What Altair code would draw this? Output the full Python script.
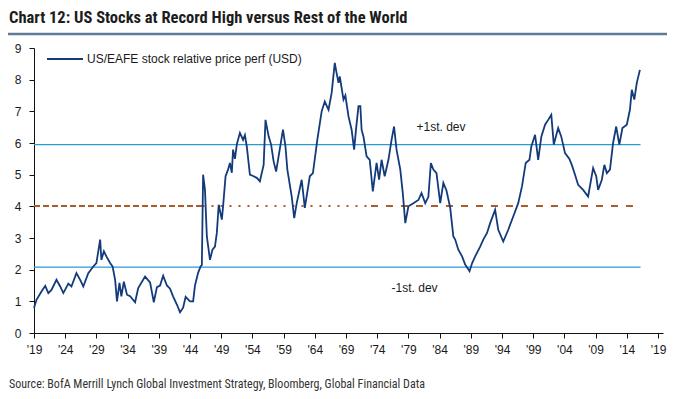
import altair as alt
import pandas as pd

# ---- data ----
years = [1919.0, 1919.4, 1920.2, 1920.8, 1921.3, 1921.8, 1922.6, 1923.2, 1923.7, 1924.5,
         1925.0, 1925.8, 1926.4, 1926.9, 1927.7, 1928.5, 1929.0, 1929.6, 1929.8, 1930.2,
         1930.6, 1931.2, 1931.6, 1932.0, 1932.3, 1932.7, 1933.0, 1933.4, 1933.9, 1934.4,
         1935.2, 1935.7, 1936.8, 1937.6, 1938.2, 1938.7, 1939.2, 1939.7, 1940.3, 1940.8,
         1941.3, 1941.9, 1942.4, 1942.9, 1943.3, 1944.0, 1944.5, 1944.8, 1945.3, 1945.7,
         1945.9, 1946.1, 1946.4, 1946.7, 1947.2, 1947.6, 1948.0, 1948.3, 1948.6, 1949.1,
         1949.3, 1949.7, 1950.1, 1950.4, 1950.7, 1950.9, 1951.2, 1951.5, 1951.7, 1952.0,
         1952.5, 1952.8, 1953.1, 1953.6, 1954.2, 1954.7, 1955.2, 1955.8, 1956.1, 1956.6,
         1957.0, 1957.4, 1957.8, 1958.2, 1958.9, 1959.3, 1959.6, 1960.3, 1960.7, 1961.1,
         1961.9, 1962.4, 1963.2, 1963.7, 1964.4, 1965.1, 1965.6, 1966.2, 1966.7, 1967.2,
         1967.5, 1967.8, 1968.0, 1968.6, 1968.9, 1969.4, 1969.9, 1970.3, 1970.6, 1971.0,
         1971.3, 1971.5, 1971.8, 1972.3, 1972.8, 1973.3, 1973.9, 1974.3, 1974.7, 1975.2,
         1975.8, 1976.3, 1976.7, 1977.1, 1977.7, 1978.1, 1978.5, 1979.0, 1979.8, 1980.6,
         1981.1, 1981.7, 1982.2, 1982.6, 1983.0, 1983.5, 1984.1, 1984.6, 1985.1, 1985.7,
         1986.2, 1986.5, 1987.0, 1987.6, 1988.1, 1988.8, 1989.2, 1989.7, 1990.5, 1991.0,
         1991.6, 1992.1, 1992.9, 1993.4, 1994.2, 1995.0, 1995.8, 1996.6, 1997.2, 1997.8,
         1998.4, 1998.7, 1999.3, 1999.8, 2000.3, 2000.9, 2001.4, 2001.9, 2002.3, 2003.0,
         2003.5, 2004.1, 2004.8, 2005.2, 2005.7, 2006.2, 2007.0, 2007.8, 2008.6, 2009.1,
         2009.4, 2010.0, 2010.4, 2010.8, 2011.3, 2011.8, 2012.3, 2012.8, 2013.3, 2014.0,
         2014.5, 2014.8, 2015.2, 2015.6, 2016.1]
values = [0.79, 1.05, 1.31, 1.49, 1.26, 1.36, 1.68, 1.47, 1.26, 1.56,
          1.47, 1.89, 1.68, 1.47, 1.89, 2.10, 2.21, 2.95, 2.31, 2.58,
          2.42, 2.21, 2.10, 1.68, 1.00, 1.58, 1.16, 1.62, 1.21, 1.16,
          0.97, 1.42, 1.78, 1.60, 0.97, 1.45, 1.50, 1.81, 1.50, 1.40,
          1.15, 0.90, 0.65, 0.80, 1.14, 1.00, 1.00, 1.50, 1.90, 2.10,
          2.15, 5.00, 4.52, 3.05, 2.31, 2.63, 2.73, 3.16, 4.05, 3.58,
          4.00, 4.95, 5.16, 5.37, 5.06, 5.79, 5.50, 5.95, 6.10, 6.32,
          6.10, 6.25, 5.89, 5.00, 4.95, 4.90, 4.79, 5.31, 6.73, 6.21,
          5.95, 5.42, 5.10, 5.58, 6.42, 5.89, 5.16, 4.31, 3.63, 4.10,
          4.84, 3.95, 4.95, 5.05, 6.10, 7.00, 7.31, 7.05, 7.58, 8.53,
          8.20, 7.90, 8.10, 7.37, 7.50, 6.84, 6.42, 5.79, 6.42, 7.16,
          7.16, 6.42, 6.20, 5.58, 5.47, 4.47, 5.37, 4.84, 5.47, 4.95,
          5.47, 6.10, 6.52, 5.79, 5.16, 4.42, 3.47, 4.00, 4.10, 4.20,
          4.42, 4.10, 4.30, 5.37, 5.16, 5.05, 4.10, 4.74, 4.50, 3.95,
          3.05, 2.95, 2.63, 2.42, 2.16, 1.95, 2.20, 2.42, 2.73, 2.95,
          3.16, 3.47, 3.89, 3.26, 2.89, 3.26, 3.68, 4.10, 4.63, 5.37,
          5.47, 5.89, 6.26, 5.47, 6.20, 6.58, 6.73, 6.89, 5.95, 6.47,
          6.20, 5.68, 5.50, 5.30, 5.00, 4.68, 4.52, 4.31, 5.21, 4.95,
          4.52, 4.84, 5.31, 5.05, 5.16, 6.00, 6.52, 5.95, 6.47, 6.58,
          7.05, 7.68, 7.37, 7.90, 8.31]

mean_value = 4.01
upper_sd = 5.95
lower_sd = 2.08
ref_start = 1919.0
ref_end = 2016.2
mean_seg_start = [1919.0, 1946.0, 1973.0]
mean_seg_end = [1946.0, 1973.0, 2016.0]
mean_seg_dash = [[6, 3], [2, 7], [7, 8]]

x_ticks = list(range(1919, 2020, 5))
y_ticks = list(range(0, 10))

ann_text = ["+1st. dev", "-1st. dev"]
ann_year = [1980.3, 1976.3]
ann_value = [6.5, 1.42]

title_text = "Chart 12: US Stocks at Record High versus Rest of the World"
source_text = "Source: BofA Merrill Lynch Global Investment Strategy, Bloomberg, Global Financial Data"
legend_text = "US/EAFE stock relative price perf (USD)"

# ---- styling ----
NAVY = "#133B7C"
LIGHT_BLUE = "#2A9AD6"
BROWN = "#A95C2C"
BAR = "#5F7B99"
W, H = 629, 285
NARROW = "Roboto Condensed, Liberation Sans Narrow, DejaVu Sans Condensed, sans-serif"
SANS = "Liberation Sans, Arial, sans-serif"

xs = alt.Scale(domain=[1919, 2019.8], nice=False, zero=False)
ys = alt.Scale(domain=[0, 9], nice=False)

series = pd.DataFrame({"year": years, "value": values})

line = alt.Chart(series).mark_line(color=NAVY, strokeWidth=1.8).encode(
    x=alt.X("year:Q", scale=xs, axis=alt.Axis(
        values=x_ticks, tickCount=len(x_ticks) + 5, title=None, grid=False,
        tickSize=5, labelPadding=6, labelFlush=False, labelOverlap=False,
        labelExpr="\"'\" + substring(toString(datum.value), 2)")),
    y=alt.Y("value:Q", scale=ys, axis=alt.Axis(
        values=y_ticks, tickCount=len(y_ticks) + 5, title=None, grid=False,
        tickSize=5, labelPadding=8, labelOverlap=False, format=".0f")),
)

sd_df = pd.DataFrame({"x": [ref_start, ref_start], "x2": [ref_end, ref_end],
                      "y": [upper_sd, lower_sd]})
sd_rules = alt.Chart(sd_df).mark_rule(color=LIGHT_BLUE, strokeWidth=1.2).encode(
    x=alt.X("x:Q", scale=xs), x2="x2:Q", y=alt.Y("y:Q", scale=ys))

mean_layers = []
for s, e, d in zip(mean_seg_start, mean_seg_end, mean_seg_dash):
    seg = pd.DataFrame({"x": [s], "x2": [e], "y": [mean_value]})
    mean_layers.append(
        alt.Chart(seg).mark_rule(color=BROWN, strokeWidth=2, strokeDash=d).encode(
            x=alt.X("x:Q", scale=xs), x2="x2:Q", y=alt.Y("y:Q", scale=ys)))

ann_df = pd.DataFrame({"text": ann_text, "year": ann_year, "value": ann_value})
ann = alt.Chart(ann_df).mark_text(align="left", baseline="middle", font=SANS,
                                  fontSize=12, color="#1a1a1a").encode(
    x=alt.X("year:Q", scale=xs), y=alt.Y("value:Q", scale=ys), text="text:N")

one = pd.DataFrame({"k": [0]})
legend_line = alt.Chart(one).mark_rule(color=NAVY, strokeWidth=2).encode(
    x=alt.value(13), x2=alt.value(49), y=alt.value(11))
legend_label = alt.Chart(one).mark_text(align="left", baseline="middle", font=SANS,
                                        fontSize=12, color="#1a1a1a",
                                        text=legend_text).encode(
    x=alt.value(53), y=alt.value(11))

title = alt.Chart(one).mark_text(align="left", baseline="alphabetic", font=NARROW,
                                 fontSize=16.5, fontWeight="bold", color="#1d1d1d",
                                 text=title_text).encode(
    x=alt.value(-25), y=alt.value(-25))
title_bar = alt.Chart(one).mark_rule(color=BAR, strokeWidth=2.5).encode(
    x=alt.value(-26), x2=alt.value(633), y=alt.value(-14))
source = alt.Chart(one).mark_text(align="left", baseline="middle", font=NARROW,
                                  fontSize=12, color="#333333",
                                  text=source_text).encode(
    x=alt.value(-25), y=alt.value(336))

chart = alt.layer(sd_rules, *mean_layers, line, ann, legend_line, legend_label,
                  title, title_bar, source).properties(
    width=W, height=H,
    padding={"left": 26, "top": 40, "right": 4, "bottom": 58},
    autosize=alt.AutoSizeParams(type="none"),
).configure_view(stroke=None).configure_axis(
    domainColor="#111111", tickColor="#111111", labelColor="#1a1a1a",
    labelFont=SANS, labelFontSize=12, domainWidth=1, tickWidth=1,
)

chart.save("out.html", embed_options={"renderer": "svg", "actions": False})
